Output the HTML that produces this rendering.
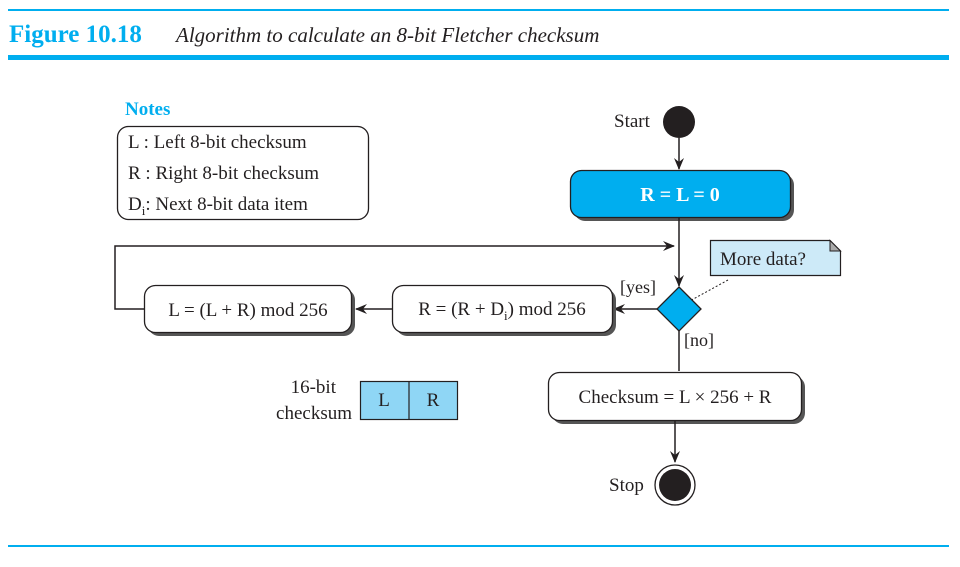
<!DOCTYPE html>
<html><head><meta charset="utf-8"><style>
html,body{margin:0;padding:0;background:#fff;width:960px;height:567px;overflow:hidden}
svg text{font-family:"Liberation Serif",serif;fill:#231f20}
</style></head><body>
<svg width="960" height="567" viewBox="0 0 960 567" xmlns="http://www.w3.org/2000/svg">
<defs>
<marker id="ah" markerWidth="12" markerHeight="10" refX="11" refY="5" orient="auto" markerUnits="userSpaceOnUse">
<path d="M0,0 L12,5 L0,10 L4,5 Z" fill="#231f20"/></marker>
</defs>
<rect x="8" y="9" width="941" height="2" fill="#00aeef"/>
<text x="9" y="42" style="font-weight:bold;fill:#00aeef" font-size="25">Figure 10.18</text>
<text x="176" y="42" font-style="italic" font-size="21">Algorithm to calculate an 8-bit Fletcher checksum</text>
<rect x="8" y="55" width="941" height="5" fill="#00aeef"/>
<rect x="8" y="545" width="941" height="2" fill="#00aeef"/>

<text x="125" y="115" font-size="19" style="font-weight:bold;fill:#00aeef">Notes</text>
<rect x="117.5" y="126.5" width="251" height="93" rx="11" fill="#fff" stroke="#231f20" stroke-width="1.3"/>
<text x="128" y="148" font-size="19">L  : Left 8-bit checksum</text>
<text x="128" y="179" font-size="19">R : Right 8-bit checksum</text>
<text x="128" y="210" font-size="19">D<tspan font-size="13" dy="5">i</tspan><tspan dy="-5">: Next 8-bit data item</tspan></text>

<text x="614" y="127" font-size="19">Start</text>
<circle cx="679" cy="122" r="16" fill="#231f20"/>
<line x1="679" y1="138" x2="679" y2="169" stroke="#231f20" stroke-width="1.5" marker-end="url(#ah)"/>

<rect x="574" y="174" width="220" height="47" rx="11" fill="#555"/>
<rect x="570.5" y="170.5" width="220" height="47" rx="11" fill="#00aeef" stroke="#231f20" stroke-width="1.3"/>
<text x="680" y="201" font-size="20" text-anchor="middle" style="fill:#fff;font-weight:bold">R = L = 0</text>

<line x1="679" y1="218" x2="679" y2="286" stroke="#231f20" stroke-width="1.5" marker-end="url(#ah)"/>
<polyline points="144,309 115,309 115,246 674,246" fill="none" stroke="#231f20" stroke-width="1.5" marker-end="url(#ah)"/>

<path d="M710.5,240.5 H830 L840.5,251 V275.5 H710.5 Z" fill="#cdeaf8" stroke="#231f20" stroke-width="1.2"/>
<path d="M830,240.5 V251 H840.5 Z" fill="#aaa" stroke="#231f20" stroke-width="1"/>
<text x="720" y="265" font-size="19">More data?</text>
<line x1="728" y1="280" x2="677" y2="308" stroke="#231f20" stroke-width="1" stroke-dasharray="2,2"/>

<polygon points="679,287 701,309 679,331 657,309" fill="#00aeef" stroke="#231f20" stroke-width="1.3"/>
<text x="620" y="293" font-size="18">[yes]</text>
<text x="684" y="346" font-size="18">[no]</text>
<line x1="657" y1="309" x2="614" y2="309" stroke="#231f20" stroke-width="1.5" marker-end="url(#ah)"/>

<rect x="396" y="289" width="220" height="47" rx="11" fill="#555"/>
<rect x="392.5" y="285.5" width="220" height="47" rx="11" fill="#fff" stroke="#231f20" stroke-width="1.3"/>
<text x="502" y="315" font-size="19" text-anchor="middle">R = (R + D<tspan font-size="13" dy="5">i</tspan><tspan dy="-5">) mod 256</tspan></text>
<line x1="392" y1="309" x2="356" y2="309" stroke="#231f20" stroke-width="1.5" marker-end="url(#ah)"/>

<rect x="148" y="289" width="207" height="47" rx="11" fill="#555"/>
<rect x="144.5" y="285.5" width="207" height="47" rx="11" fill="#fff" stroke="#231f20" stroke-width="1.3"/>
<text x="248" y="316" font-size="19" text-anchor="middle">L = (L + R) mod 256</text>

<line x1="679" y1="331" x2="679" y2="371" stroke="#231f20" stroke-width="1.5"/>
<rect x="552" y="376" width="253" height="48" rx="11" fill="#555"/>
<rect x="548.5" y="372.5" width="253" height="48" rx="11" fill="#fff" stroke="#231f20" stroke-width="1.3"/>
<text x="675" y="403" font-size="19" text-anchor="middle">Checksum = L × 256 + R</text>

<line x1="675" y1="421" x2="675" y2="462" stroke="#231f20" stroke-width="1.5" marker-end="url(#ah)"/>
<circle cx="675" cy="485" r="20" fill="#fff" stroke="#231f20" stroke-width="1.3"/>
<circle cx="675" cy="485" r="16" fill="#231f20"/>
<text x="609" y="491" font-size="19">Stop</text>

<text x="336" y="393" font-size="19" text-anchor="end">16-bit</text>
<text x="352" y="419" font-size="19" text-anchor="end">checksum</text>
<rect x="360.5" y="381.5" width="97" height="38" fill="#8fd6f5" stroke="#231f20" stroke-width="1.2"/>
<line x1="409" y1="381" x2="409" y2="420" stroke="#231f20" stroke-width="1.2"/>
<text x="384" y="406" font-size="19" text-anchor="middle">L</text>
<text x="433" y="406" font-size="19" text-anchor="middle">R</text>
</svg>
</body></html>
